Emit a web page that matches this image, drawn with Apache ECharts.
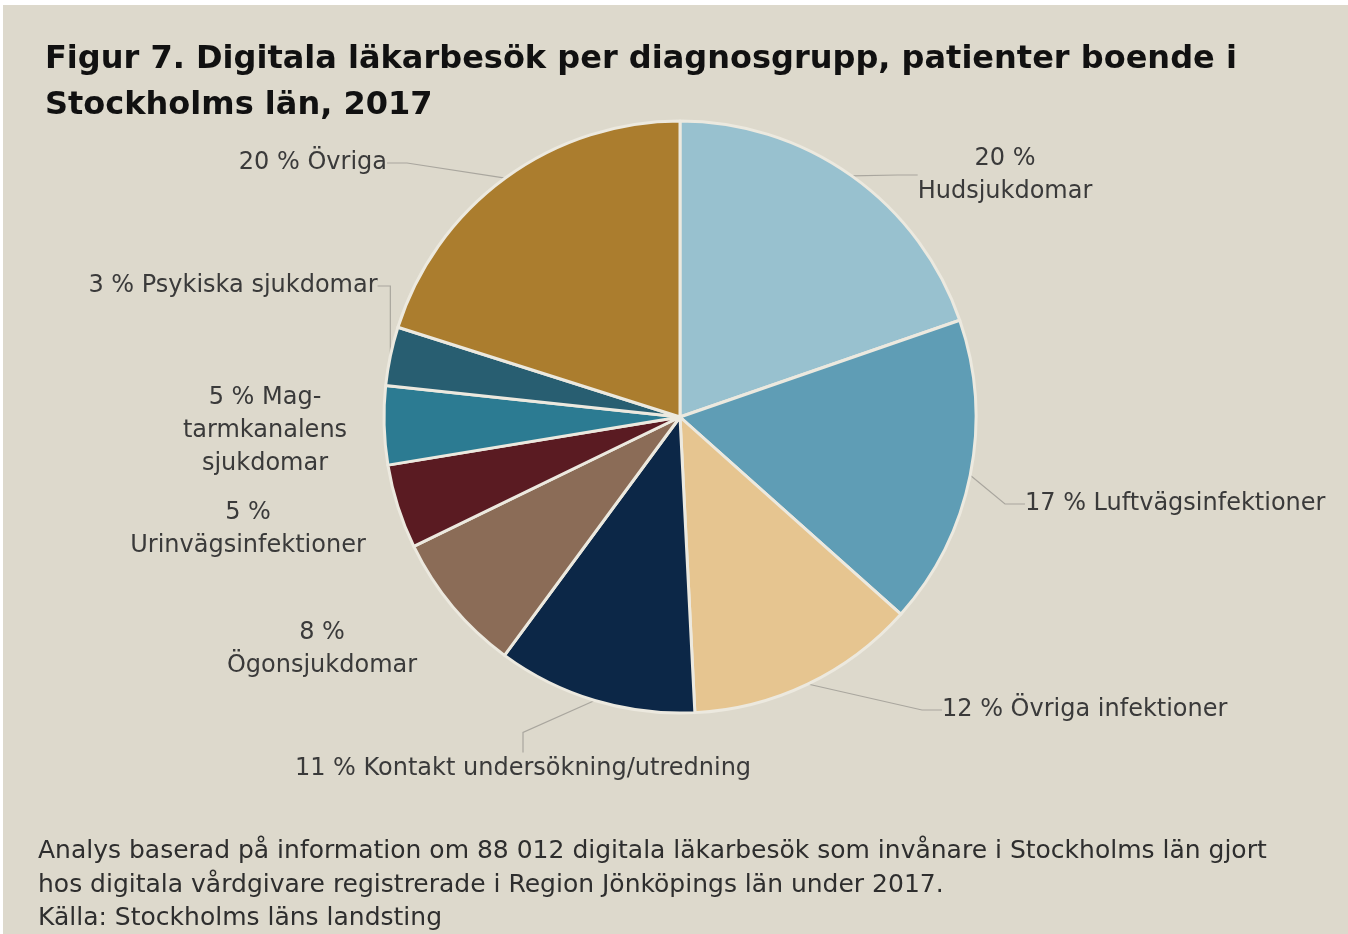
<!DOCTYPE html>
<html>
<head>
<meta charset="utf-8">
<script src="https://cdn.jsdelivr.net/npm/echarts@6/dist/echarts.min.js"></script>
<style>
html,body{margin:0;padding:0;background:#ffffff;}
#chart{width:1348px;height:934px;}
</style>
</head>
<body>
<div id="chart"></div>
<script>
const titleLines = ['Figur 7. Digitala läkarbesök per diagnosgrupp, patienter boende i', 'Stockholms län, 2017'];
const categories = ['Hudsjukdomar', 'Luftvägsinfektioner', 'Övriga infektioner', 'Kontakt undersökning/utredning', 'Ögonsjukdomar', 'Urinvägsinfektioner', 'Mag-tarmkanalens sjukdomar', 'Psykiska sjukdomar', 'Övriga'];
const values = [19.7, 16.9, 12.6, 10.9, 7.7, 4.6, 4.3, 3.2, 20.1];
const labelTexts = ['20 %\nHudsjukdomar', '17 % Luftvägsinfektioner', '12 % Övriga infektioner', '11 % Kontakt undersökning/utredning', '8 %\nÖgonsjukdomar', '5 %\nUrinvägsinfektioner', '5 % Mag-\ntarmkanalens\nsjukdomar', '3 % Psykiska sjukdomar', '20 % Övriga'];
const footnoteLines = ['Analys baserad på information om 88 012 digitala läkarbesök som invånare i Stockholms län gjort', 'hos digitala vårdgivare registrerade i Region Jönköpings län under 2017.', 'Källa: Stockholms läns landsting'];

// styling
const colors = ['#98c1cf', '#5f9db5', '#e6c590', '#0c2747', '#8b6c57', '#5a1b22', '#2c7b92', '#285e71', '#ab7d2e'];
const labelPlace = [
  {x: 1005, y: 175, align: 'center', line: true},
  {x: 1025, y: 504, align: 'left', line: true},
  {x: 942, y: 710, align: 'left', line: true},
  {x: 523, y: 769, align: 'center', line: true},
  {x: 322, y: 649, align: 'center', line: false},
  {x: 248, y: 529, align: 'center', line: false},
  {x: 265, y: 431, align: 'center', line: false},
  {x: 233, y: 286, align: 'center', line: true},
  {x: 387, y: 163, align: 'right', line: true}
];
const FONT = '"DejaVu Sans", sans-serif';

const chart = echarts.init(document.getElementById('chart'), null, {renderer: 'canvas'});

const data = categories.map((c, i) => ({
  name: c,
  value: values[i],
  itemStyle: {color: colors[i]},
  label: {formatter: labelTexts[i]},
  labelLine: {show: labelPlace[i].line}
}));

chart.setOption({
  backgroundColor: '#ddd9cc',
  animation: false,
  title: [
    {text: titleLines.join('\n'), left: 40, top: 32,
     textStyle: {fontFamily: FONT, fontWeight: 'bold', fontSize: 32, lineHeight: 46, color: '#111111'}},
    {text: footnoteLines.join('\n'), left: 33, top: 830,
     textStyle: {fontFamily: FONT, fontWeight: 'normal', fontSize: 25, lineHeight: 33.5, color: '#2e2e2e'}}
  ],
  graphic: [
    {type: 'rect', shape: {x: 0, y: 0, width: 1348, height: 5}, style: {fill: '#ffffff'}, silent: true},
    {type: 'rect', shape: {x: 0, y: 0, width: 3, height: 934}, style: {fill: '#ffffff'}, silent: true}
  ],
  series: [{
    type: 'pie',
    center: [680, 417],
    radius: [0, 296],
    startAngle: 90,
    clockwise: true,
    avoidLabelOverlap: false,
    itemStyle: {borderColor: '#ece9df', borderWidth: 3},
    label: {
      show: true,
      position: 'outside',
      fontFamily: FONT,
      fontSize: 24,
      lineHeight: 33,
      color: '#3a3a3a',
      align: 'center'
    },
    labelLine: {
      length: 20,
      length2: 20,
      lineStyle: {color: '#a9a69e', width: 1.2}
    },
    labelLayout: function (params) {
      const p = labelPlace[params.dataIndex];
      return {x: p.x, y: p.y, align: p.align, verticalAlign: 'middle'};
    },
    emphasis: {disabled: true},
    data: data
  }]
});
</script>
</body>
</html>
